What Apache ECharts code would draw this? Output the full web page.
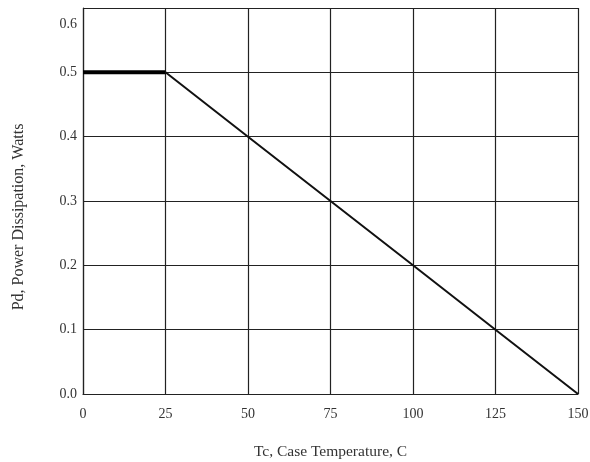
<!DOCTYPE html>
<html>
<head>
<meta charset="utf-8">
<script src="https://cdn.jsdelivr.net/npm/echarts@6/dist/echarts.min.js"></script>
<style>
  html, body { margin: 0; padding: 0; background: #fff; }
  #chart { width: 590px; height: 462px; }
</style>
</head>
<body>
<div id="chart"></div>
<script>
// Power derating curve: case temperature (C) vs. allowed power dissipation (W)
const caseTemp = [0, 25, 50, 75, 100, 125, 150];
const powerDissipation = [0.5, 0.5, 0.4, 0.3, 0.2, 0.1, 0.0];
const xTicks = [0, 25, 50, 75, 100, 125, 150];
const yTicks = [0.0, 0.1, 0.2, 0.3, 0.4, 0.5, 0.6];

const flatPart = caseTemp.slice(0, 2).map((t, i) => [t, powerDissipation[i]]);
const slopePart = caseTemp.slice(1).map((t, i) => [t, powerDissipation[i + 1]]);

const serif = 'Liberation Serif';
const topTick = yTicks[yTicks.length - 1];
const chart = echarts.init(document.getElementById('chart'));
chart.setOption({
  animation: false,
  backgroundColor: '#fff',
  grid: { left: 83, right: 12, top: 8, bottom: 68, outerBoundsMode: 'none', containLabel: false },
  xAxis: {
    type: 'value',
    min: xTicks[0], max: xTicks[xTicks.length - 1], interval: 25,
    name: 'Tc, Case Temperature, C',
    nameLocation: 'middle', nameGap: 50,
    nameTextStyle: { fontFamily: serif, fontSize: 15.5, color: '#333' },
    axisLine: { lineStyle: { color: '#222', width: 1.2 } },
    axisTick: { show: false },
    axisLabel: { fontFamily: serif, fontSize: 14, color: '#333', margin: 13 },
    splitLine: { show: true, lineStyle: { color: '#222', width: 1.2 } }
  },
  yAxis: {
    type: 'value',
    min: yTicks[0], max: topTick, interval: 0.1,
    name: 'Pd, Power Dissipation, Watts',
    nameLocation: 'middle', nameGap: 56,
    nameTextStyle: { fontFamily: serif, fontSize: 16, color: '#333', padding: [0, 32, 0, 0] },
    axisLine: { show: true, lineStyle: { color: '#222', width: 1.2 } },
    axisTick: { show: false },
    axisLabel: {
      fontFamily: serif, fontSize: 14, color: '#333', margin: 6,
      formatter: v => (Math.abs(v - topTick) < 1e-9 ? '{top|' + v.toFixed(1) + '}' : v.toFixed(1)),
      rich: { top: { fontFamily: serif, fontSize: 14, color: '#333', padding: [32, 0, 0, 0] } }
    },
    splitLine: { show: true, lineStyle: { color: '#222', width: 1.2 } }
  },
  series: [
    {
      type: 'line', data: flatPart, symbol: 'none',
      lineStyle: { color: '#000', width: 4 }, z: 5
    },
    {
      type: 'line', data: slopePart, symbol: 'none',
      lineStyle: { color: '#111', width: 2 }, z: 5
    }
  ]
});
</script>
</body>
</html>
